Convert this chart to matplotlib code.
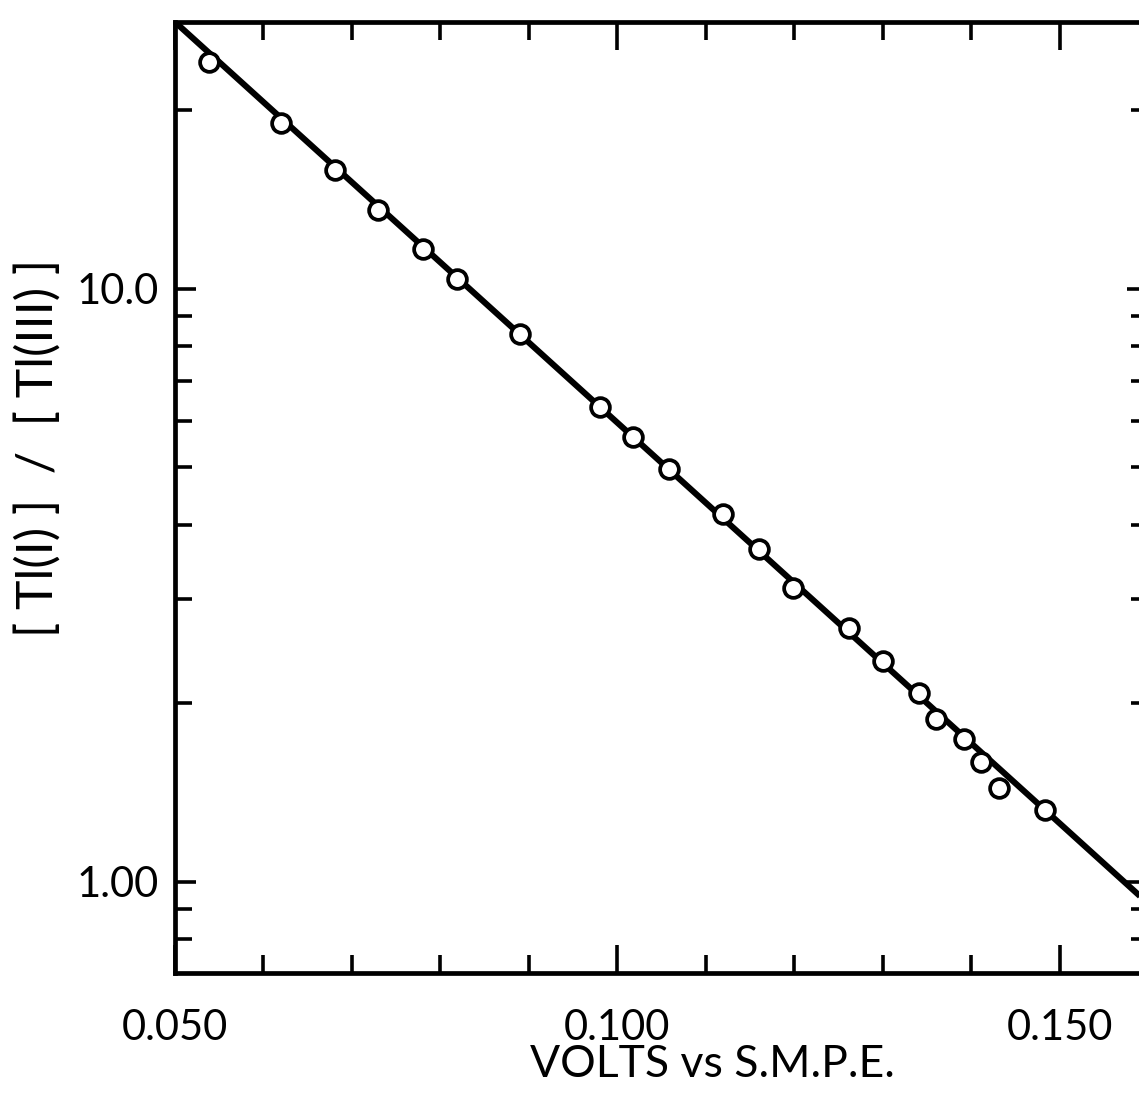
import matplotlib
matplotlib.use("Agg")

import numpy as np
import matplotlib.pyplot as plt
from matplotlib.ticker import MultipleLocator, LogLocator, FixedLocator, NullFormatter

# =========================
# Data
# =========================
volts = [0.0538, 0.0620, 0.0681, 0.0729, 0.0780, 0.0819, 0.0890,
         0.0980, 0.1018, 0.1058, 0.1120, 0.1160, 0.1199, 0.1262,
         0.1300, 0.1341, 0.1360, 0.1392, 0.1411, 0.1431, 0.1483]
ratio = [24.1, 19.05, 15.9, 13.6, 11.7, 10.4, 8.40,
         6.32, 5.63, 4.97, 4.17, 3.64, 3.13, 2.68,
         2.36, 2.08, 1.88, 1.74, 1.59, 1.44, 1.32]

fit_volts = [0.050, 0.160]
fit_ratio = [28.2, 0.92]

x_major = [0.050, 0.100, 0.150]
x_labels = ["0.050", "0.100", "0.150"]
y_major = [1.0, 10.0]
y_labels = ["1.00", "10.0"]

# =========================
# Style
# =========================
W, H, DPI = 1139, 1094, 100
FONT = "Lato"
TICK_FS = 30
LABEL_FS = 34

plt.rcParams["font.family"] = [FONT, "DejaVu Sans"]

fig = plt.figure(figsize=(W / DPI, H / DPI), dpi=DPI)
# right spine sits just outside the scanned page
L, R, T, B = 175, 1148, 22, 973
ax = fig.add_axes([L / W, 1 - B / H, (R - L) / W, (B - T) / H])

ax.set_yscale("log")
ax.set_xlim(0.050, 0.160)
ax.set_ylim(0.702, 28.2)

ax.plot(fit_volts, fit_ratio, color="black", lw=4.4, solid_capstyle="butt", zorder=2)
ax.plot(volts, ratio, linestyle="none", marker="o", ms=13.5,
        mfc="white", mec="black", mew=2.7, zorder=3)

for s in ax.spines.values():
    s.set_linewidth(3.4)

# x ticks
ax.xaxis.set_major_locator(FixedLocator(x_major))
ax.xaxis.set_minor_locator(MultipleLocator(0.010))
ax.set_xticklabels(x_labels, fontsize=TICK_FS)

# y ticks
ax.yaxis.set_major_locator(FixedLocator(y_major))
ax.yaxis.set_minor_locator(LogLocator(base=10, subs=np.arange(2, 10)))
ax.yaxis.set_minor_formatter(NullFormatter())
ax.set_yticklabels(y_labels, fontsize=TICK_FS)

ax.tick_params(axis="both", which="both", direction="in",
               top=True, right=True, width=2.6)
ax.tick_params(axis="x", which="major", length=20, pad=26)
ax.tick_params(axis="x", which="minor", length=13)
ax.tick_params(axis="y", which="major", length=15, pad=12)
ax.tick_params(axis="y", which="minor", length=12)

ax.set_xlabel("VOLTS vs S.M.P.E.", fontsize=LABEL_FS - 2)
ax.xaxis.set_label_coords((712 - L) / (R - L), -(1044 - B) / (B - T))
ax.set_ylabel("[ Tl(I) ]  /  [ Tl(III) ]", fontsize=LABEL_FS + 2)
ax.yaxis.set_label_coords(-(L - 62) / (R - L), 1 - (448 - T) / (B - T))

fig.savefig("out.png", dpi=DPI)
plt.close(fig)
